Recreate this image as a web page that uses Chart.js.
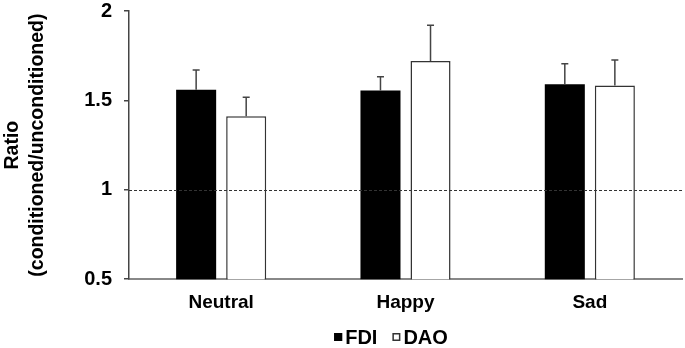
<!DOCTYPE html>
<html>
<head>
<meta charset="utf-8">
<script src="https://cdn.jsdelivr.net/npm/chart.js@4/dist/chart.umd.min.js"></script>
<style>
  html, body { margin: 0; padding: 0; background: #fff; }
  #wrap { width: 685px; height: 348px; }
</style>
</head>
<body>
<div id="wrap"><canvas id="myChart"></canvas></div>
<script>
var categories = ['Neutral', 'Happy', 'Sad'];
var fdi = [1.56, 1.555, 1.59];
var fdiErr = [0.11, 0.077, 0.115];
var dao = [1.412, 1.72, 1.583];
var daoErr = [0.105, 0.2, 0.143];
var refValue = 1;
var yTicks = [0.5, 1, 1.5, 2];

var FONT = "'Liberation Sans', Arial, sans-serif";

// error bars (upper only) + dashed reference line
var extras = {
  id: 'extras',
  afterDatasetsDraw: function (chart) {
    var c = chart.ctx;
    var ys = chart.scales.y;
    var area = chart.chartArea;
    c.save();
    chart.data.datasets.forEach(function (ds, i) {
      var meta = chart.getDatasetMeta(i);
      meta.data.forEach(function (bar, j) {
        var top = ys.getPixelForValue(ds.data[j] + ds.err[j]);
        c.strokeStyle = '#444';
        c.lineWidth = 1.5;
        c.beginPath();
        c.moveTo(bar.x, bar.y);
        c.lineTo(bar.x, top);
        c.moveTo(bar.x - 3.5, top);
        c.lineTo(bar.x + 3.5, top);
        c.stroke();
      });
    });
    var yr = Math.round(ys.getPixelForValue(refValue)) + 0.5;
    c.strokeStyle = '#333';
    c.lineWidth = 1;
    c.setLineDash([3, 2]);
    c.beginPath();
    c.moveTo(area.left, yr);
    c.lineTo(area.right, yr);
    c.stroke();
    c.restore();
  },
  afterDraw: function (chart) {
    // legend drawn by hand: small squares, tight gap
    var c = chart.ctx;
    c.save();
    c.font = 'bold 20px ' + FONT;
    c.textBaseline = 'middle';
    var box = 8, gap = 3, itemGap = 15;
    var items = chart.data.datasets.map(function (ds) {
      return { label: ds.label, fill: ds.backgroundColor, stroke: ds.borderColor, w: box + gap + c.measureText(ds.label).width };
    });
    var total = items.reduce(function (s, it) { return s + it.w; }, 0) + itemGap * (items.length - 1);
    var x = 391 - total / 2;
    var y = 337;
    items.forEach(function (it) {
      c.fillStyle = it.fill;
      c.fillRect(x, y - box / 2, box, box);
      c.strokeStyle = it.stroke;
      c.lineWidth = 1.5;
      c.strokeRect(x + 0.75, y - box / 2 + 0.75, box - 1.5, box - 1.5);
      c.fillStyle = '#000';
      c.fillText(it.label, x + box + gap, y + 1);
      x += it.w + itemGap;
    });
    c.restore();
  }
};

new Chart(document.getElementById('myChart'), {
  type: 'bar',
  data: {
    labels: categories,
    datasets: [{
      label: 'FDI',
      data: fdi,
      err: fdiErr,
      backgroundColor: '#000',
      borderColor: '#000',
      borderWidth: 0
    }, {
      label: 'DAO',
      data: dao,
      err: daoErr,
      backgroundColor: '#fff',
      borderColor: '#333',
      borderWidth: 1.5
    }]
  },
  options: {
    responsive: true,
    maintainAspectRatio: false,
    animation: false,
    datasets: {
      bar: { categoryPercentage: 0.543, barPercentage: 0.8 }
    },
    layout: { padding: { top: 11, right: 3, bottom: 22, left: 0 } },
    plugins: {
      legend: { display: false },
      tooltip: { enabled: false }
    },
    scales: {
      x: {
        grid: { display: false, drawTicks: false },
        border: { display: true, color: '#888', width: 2 },
        ticks: {
          padding: 12,
          color: '#000',
          font: { family: FONT, size: 19, weight: 'bold' }
        }
      },
      y: {
        min: 0.5,
        max: 2,
        afterFit: function (s) { s.width = 129; s.paddingTop = 0; s.paddingBottom = 0; },
        afterBuildTicks: function (s) {
          s.ticks = yTicks.map(function (v) { return { value: v }; });
        },
        grid: { drawOnChartArea: false, drawTicks: true, tickLength: 5, color: '#444', lineWidth: 1.5 },
        border: { display: true, color: '#444', width: 1.5 },
        ticks: {
          padding: 12,
          color: '#000',
          font: { family: FONT, size: 20, weight: 'bold' },
          callback: function (v) { return String(v); }
        },
        title: {
          display: true,
          text: ['Ratio', '(conditioned/unconditioned)'],
          color: '#000',
          padding: { top: 0, bottom: 0 },
          font: { family: FONT, size: 19.5, weight: 'bold', lineHeight: 1.28 }
        }
      }
    }
  },
  plugins: [extras]
});
</script>
</body>
</html>
